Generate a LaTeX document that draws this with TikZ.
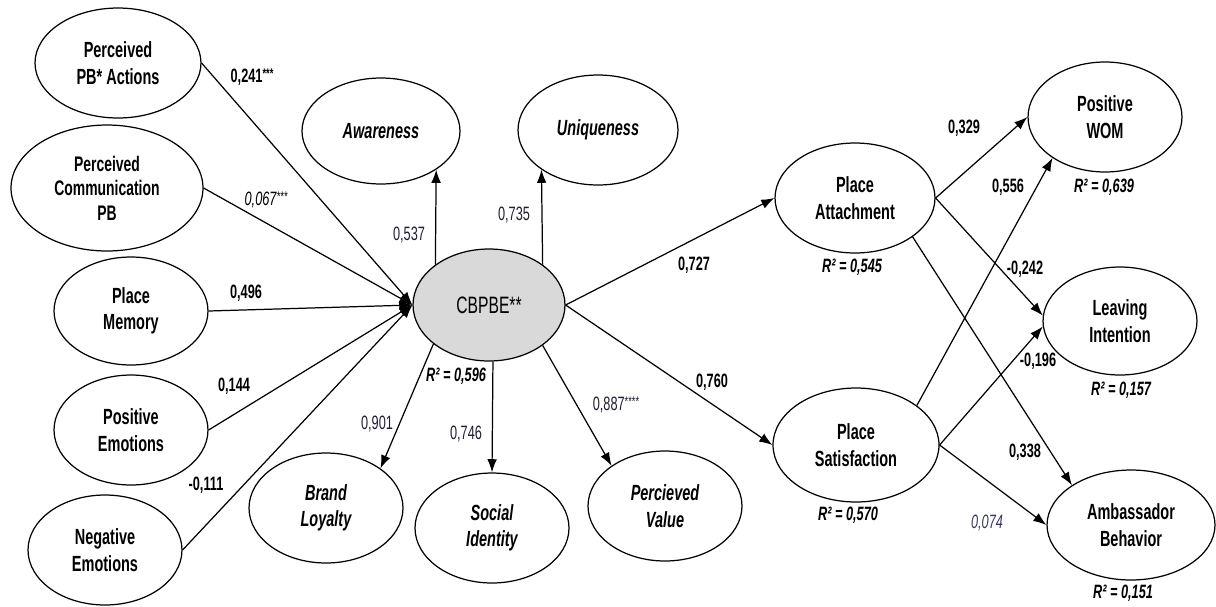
\documentclass[tikz,border=0pt]{standalone}
\usepackage{fontspec}
\setmainfont[FakeStretch=0.66]{Liberation Sans}
\usetikzlibrary{shapes.geometric,arrows.meta}
\definecolor{lblnavy}{HTML}{1E1E34}
\definecolor{lblgrey}{HTML}{3A3A5A}
\definecolor{cbfill}{HTML}{D9D9D9}
\newcommand{\stars}[1]{\raisebox{2.6pt}{\fontsize{8}{8}\selectfont #1}}
\begin{document}
\begin{tikzpicture}[x=0.02cm,y=-0.02cm,
  lat/.style={ellipse,draw,line width=0.7pt,inner sep=0pt,align=center,font=\fontsize{12.5}{15}\selectfont\bfseries},
  latit/.style={lat,font=\fontsize{12.5}{15}\selectfont\bfseries\itshape},
  conn/.style={line width=0.7pt,-{Latex[length=7.5pt,width=5.5pt]}},
  lbl/.style={font=\fontsize{11}{12}\selectfont\bfseries,inner sep=0pt},
  lblr/.style={font=\fontsize{11}{12}\selectfont,inner sep=0pt,text=lblnavy},
  lbli/.style={font=\fontsize{11}{12}\selectfont\itshape,inner sep=0pt,text=lblgrey},
  rsq/.style={font=\fontsize{11}{12}\selectfont\bfseries\itshape,inner sep=0pt}
]
\useasboundingbox (0,0) rectangle (1216,606);

% nodes
\node[lat,minimum width=3.32cm,minimum height=2.2cm] (ppa) at (118,63) {Perceived\\PB* Actions};
\node[lat,minimum width=3.84cm,minimum height=2.52cm,font=\fontsize{12}{14}\selectfont\bfseries] (pcp) at (107,188) {Perceived\\Communication\\PB};
\node[lat,minimum width=3.08cm,minimum height=2.16cm] (pm) at (131,311) {Place\\Memory};
\node[lat,minimum width=3.08cm,minimum height=2.2cm] (pe) at (131,430) {Positive\\Emotions};
\node[lat,minimum width=3.08cm,minimum height=2.2cm] (ne) at (105,550) {Negative\\Emotions};
\node[latit,minimum width=3.16cm,minimum height=2.12cm] (aw) at (381,131) {Awareness};
\node[latit,minimum width=3.2cm,minimum height=2.2cm] (un) at (598,130) {Uniqueness};
\node[lat,minimum width=3.04cm,minimum height=2.24cm,fill=cbfill,font=\fontsize{13.5}{15}\selectfont] (cb) at (489,305) {CBPBE**};
\node[latit,minimum width=3.08cm,minimum height=2.2cm] (bl) at (326,508) {Brand\\Loyalty};
\node[latit,minimum width=3.08cm,minimum height=2.2cm] (si) at (492,528) {Social\\Identity};
\node[latit,minimum width=3.08cm,minimum height=2.2cm] (pv) at (665,506) {Percieved\\Value};
\node[lat,minimum width=3.2cm,minimum height=2.2cm] (pa) at (855,198) {Place\\Attachment};
\node[lat,minimum width=3.32cm,minimum height=2.28cm] (ps) at (856,445) {Place\\Satisfaction};
\node[lat,minimum width=3.08cm,minimum height=2.2cm] (wom) at (1105,117) {Positive\\WOM};
\node[lat,minimum width=3.08cm,minimum height=2.16cm] (li) at (1120,321) {Leaving\\Intention};
\node[lat,minimum width=3.36cm,minimum height=2.2cm] (ab) at (1131,525) {Ambassador\\Behavior};

% connectors into CBPBE
\draw[conn] (ppa.east) -- (cb.west);
\draw[conn] (pcp.east) -- (cb.west);
\draw[conn] (pm.east) -- (cb.west);
\draw[conn] (pe.east) -- (cb.west);
\draw[conn] (ne.east) -- (cb.west);
% CBPBE to dimensions
\draw[conn] (cb.143) -- (aw.-35);
\draw[conn] (cb.37) -- (un.215);
\draw[conn] (cb.-145) -- (bl.36);
\draw[conn] (cb.-86) -- (si.north);
\draw[conn] (cb.-37) -- (pv.143);
% CBPBE to outcomes
\draw[conn] (cb.east) -- (pa.west);
\draw[conn] (cb.east) -- (ps.west);
% outcomes
\draw[conn] (pa.east) -- (wom.west);
\draw[conn] (pa.east) -- (li.176);
\draw[conn] (pa.-34) -- (ab.146);
\draw[conn] (ps.33) -- (wom.-142);
\draw[conn] (ps.east) -- (li.184);
\draw[conn] (ps.east) -- (ab.west);

% labels
\node[lbl] (l1) at (252,77) {0,241\stars{***}};
\node[lbli,text=black] (l2) at (266,200) {0,067\stars{***}};
\node[lbl] (l3) at (246,293) {0,496};
\node[lbl] (l4) at (234,386) {0,144};
\node[lbl] (l5) at (206,485) {-0,111};
\node[lblr] (l6) at (409,235) {0,537};
\node[lblr] (l7) at (514,215) {0,735};
\node[lbl] (l8) at (694,265) {0,727};
\node[rsq] (r1) at (456,376) {R² = 0,596};
\node[lblr] (l9) at (377,424) {0,901};
\node[lblr] (l10) at (466,434) {0,746};
\node[lblr] (l11) at (616,405) {0,887\stars{****}};
\node[lbl] (l12) at (712,382) {0,760};
\node[lbl] (l13) at (964,128) {0,329};
\node[lbl] (l14) at (1008,187) {0,556};
\node[rsq] (r2) at (1104,187) {R² = 0,639};
\node[rsq] (r3) at (852,267) {R² = 0,545};
\node[lbl] (l15) at (1025,269) {-0,242};
\node[lbl] (l16) at (1038,361) {-0,196};
\node[rsq] (r4) at (1121,390) {R² = 0,157};
\node[rsq] (r5) at (848,515) {R² = 0,570};
\node[lbl] (l17) at (1025,452) {0,338};
\node[lbli] (l18) at (987,523) {0,074};
\node[rsq] (r6) at (1123,593) {R² = 0,151};
\end{tikzpicture}
\end{document}
